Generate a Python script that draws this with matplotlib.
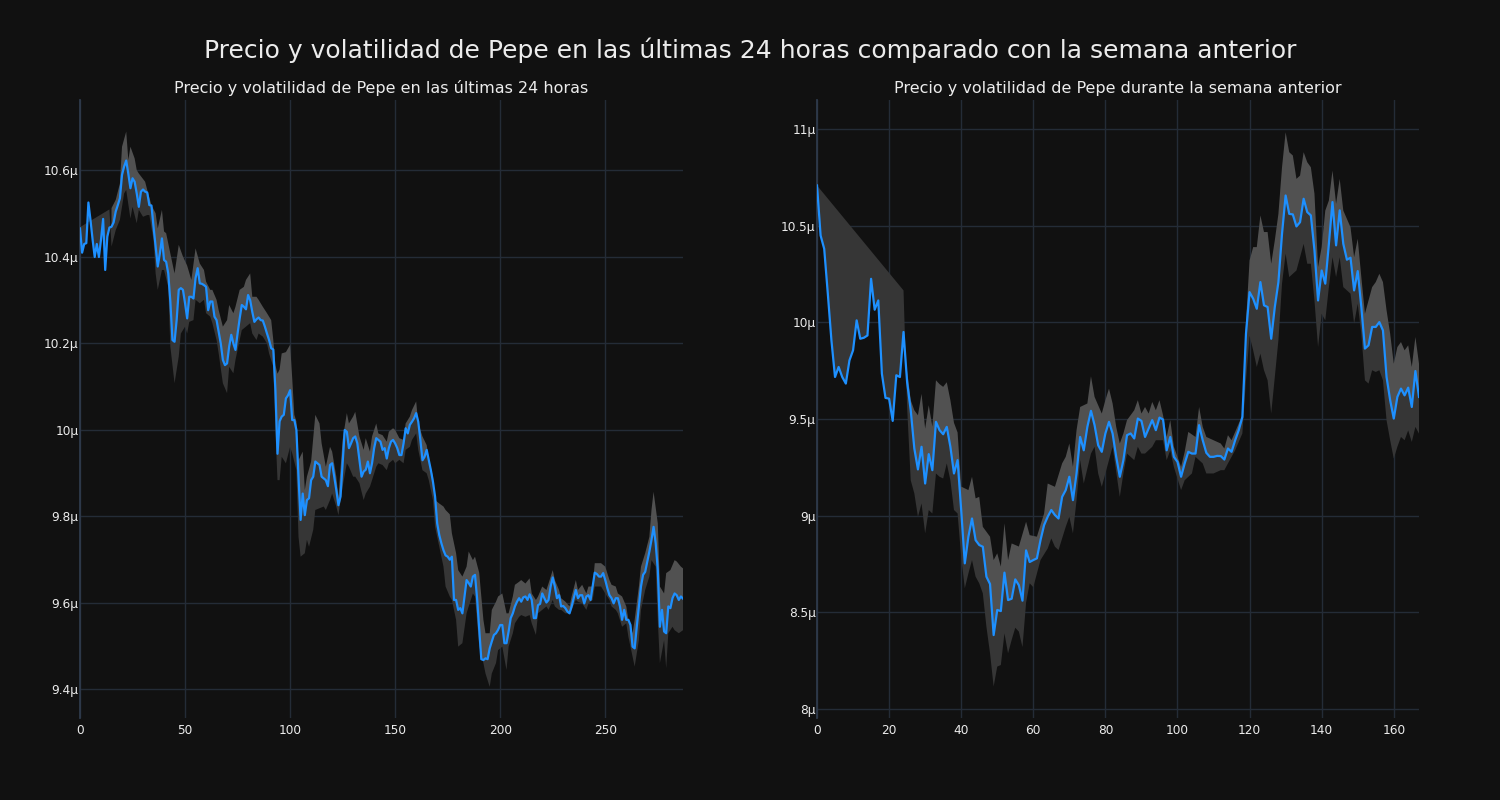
import numpy as np
import matplotlib
matplotlib.use("Agg")
import matplotlib.pyplot as plt
from matplotlib.ticker import EngFormatter

plt.rcParams["font.family"] = ["DejaVu Sans"]

# ---------------- data (prices in micro-units, scaled by 1e-6 when plotted) ----------------
SCALE = 1e-6

day_price = [
    10.466, 10.410, 10.430, 10.432, 10.526, 10.485, 10.440, 10.400, 10.430, 10.400,
    10.440, 10.488, 10.370, 10.447, 10.468, 10.470, 10.480, 10.505, 10.520, 10.536,
    10.590, 10.609, 10.623, 10.592, 10.559, 10.582, 10.574, 10.547, 10.516, 10.551,
    10.556, 10.551, 10.549, 10.520, 10.519, 10.470, 10.424, 10.378, 10.408, 10.443,
    10.393, 10.389, 10.362, 10.297, 10.208, 10.204, 10.254, 10.324, 10.328, 10.324,
    10.293, 10.258, 10.308, 10.308, 10.304, 10.351, 10.374, 10.339, 10.338, 10.335,
    10.331, 10.277, 10.297, 10.297, 10.262, 10.254, 10.227, 10.200, 10.162, 10.150,
    10.154, 10.193, 10.220, 10.200, 10.185, 10.223, 10.258, 10.289, 10.285, 10.279,
    10.312, 10.300, 10.273, 10.250, 10.256, 10.260, 10.254, 10.253, 10.239, 10.223,
    10.208, 10.189, 10.186, 10.093, 9.945, 10.020, 10.031, 10.035, 10.073, 10.080,
    10.092, 10.023, 10.023, 10.000, 9.890, 9.792, 9.853, 9.803, 9.838, 9.842,
    9.884, 9.892, 9.927, 9.923, 9.919, 9.892, 9.888, 9.884, 9.870, 9.919,
    9.923, 9.892, 9.861, 9.826, 9.846, 9.923, 10.000, 9.996, 9.958, 9.969,
    9.981, 9.985, 9.969, 9.930, 9.892, 9.904, 9.908, 9.927, 9.900, 9.923,
    9.958, 9.981, 9.977, 9.973, 9.954, 9.958, 9.934, 9.958, 9.973, 9.977,
    9.969, 9.958, 9.942, 9.942, 9.969, 10.004, 9.992, 10.012, 10.019, 10.027,
    10.039, 10.019, 9.977, 9.930, 9.938, 9.954, 9.931, 9.907, 9.880, 9.846,
    9.784, 9.757, 9.738, 9.722, 9.710, 9.707, 9.700, 9.707, 9.607, 9.607,
    9.584, 9.588, 9.576, 9.615, 9.653, 9.646, 9.638, 9.661, 9.665, 9.610,
    9.540, 9.470, 9.468, 9.472, 9.470, 9.495, 9.511, 9.526, 9.530, 9.538,
    9.549, 9.549, 9.507, 9.507, 9.534, 9.565, 9.576, 9.592, 9.603, 9.611,
    9.603, 9.613, 9.615, 9.607, 9.620, 9.607, 9.565, 9.565, 9.595, 9.598,
    9.622, 9.611, 9.601, 9.607, 9.638, 9.659, 9.638, 9.611, 9.618, 9.592,
    9.593, 9.588, 9.580, 9.576, 9.592, 9.611, 9.630, 9.611, 9.618, 9.618,
    9.599, 9.615, 9.618, 9.607, 9.638, 9.670, 9.667, 9.661, 9.661, 9.669,
    9.653, 9.634, 9.618, 9.611, 9.599, 9.611, 9.611, 9.592, 9.561, 9.584,
    9.561, 9.561, 9.549, 9.499, 9.495, 9.545, 9.592, 9.638, 9.665, 9.672,
    9.696, 9.719, 9.746, 9.776, 9.738, 9.676, 9.545, 9.584, 9.534, 9.530,
    9.592, 9.588, 9.611, 9.622, 9.618, 9.607, 9.615, 9.610,
]

# upper edge of the volatility band (24h)
day_up_x = [15, 17, 19, 20, 22, 23, 24, 26, 27, 28, 31, 32, 34, 36, 37, 39, 40, 41, 43, 45,
            47, 49, 51, 53, 55, 57, 59, 60, 62, 63, 65, 66, 68, 70, 71, 73, 74, 76, 78, 79,
            81, 82, 84, 85, 87, 89, 91, 92, 93, 94, 95, 96, 98, 100, 101, 102, 103, 104, 106, 107,
            108, 110, 112, 114, 115, 117, 119, 120, 122, 123, 125, 127, 128, 130, 131, 133, 135, 136, 138, 139,
            141, 142, 144, 146, 147, 149, 150, 152, 154, 155, 157, 158, 160, 161, 163, 165, 166, 168, 169, 171,
            173, 174, 176, 177, 179, 180, 182, 184, 185, 187, 188, 190, 192, 193, 195, 196, 198, 199, 201, 203,
            204, 206, 207, 209, 210, 212, 214, 215, 217, 218, 220, 222, 223, 225, 226, 228, 229, 231, 233, 234,
            236, 237, 239, 241, 242, 244, 245, 247, 248, 250, 252, 253, 255, 256, 258, 260, 261, 263, 264, 266,
            267, 269, 271, 272, 273, 275, 276, 278, 279, 281, 283, 284, 286, 287]
day_up_v = [10.513, 10.532, 10.570, 10.655, 10.690, 10.624, 10.655, 10.628, 10.601, 10.593,
            10.574, 10.555, 10.520, 10.501, 10.466, 10.509, 10.459, 10.455, 10.408, 10.362,
            10.428, 10.401, 10.380, 10.347, 10.420, 10.385, 10.370, 10.343, 10.324, 10.324,
            10.301, 10.277, 10.239, 10.254, 10.289, 10.270, 10.285, 10.324, 10.331, 10.347,
            10.362, 10.308, 10.308, 10.301, 10.285, 10.270, 10.254, 10.208, 10.150, 10.130,
            10.140, 10.177, 10.180, 10.197, 10.120, 10.035, 10.020, 9.930, 9.950, 9.861,
            9.892, 9.927, 10.035, 10.015, 9.969, 9.915, 9.961, 9.950, 9.892, 9.845,
            9.977, 10.039, 10.015, 10.031, 10.042, 9.985, 9.954, 9.981, 9.950, 9.985,
            10.015, 9.992, 9.988, 9.973, 9.996, 10.004, 10.000, 9.981, 9.977, 10.015,
            10.031, 10.046, 10.066, 10.015, 9.985, 9.965, 9.934, 9.892, 9.838, 9.830,
            9.823, 9.815, 9.805, 9.761, 9.715, 9.676, 9.661, 9.684, 9.719, 9.699,
            9.707, 9.670, 9.561, 9.530, 9.530, 9.584, 9.603, 9.615, 9.622, 9.576,
            9.576, 9.615, 9.642, 9.649, 9.653, 9.645, 9.657, 9.622, 9.607, 9.615,
            9.638, 9.630, 9.645, 9.676, 9.653, 9.630, 9.611, 9.603, 9.592, 9.615,
            9.653, 9.630, 9.642, 9.622, 9.638, 9.638, 9.692, 9.692, 9.692, 9.684,
            9.653, 9.642, 9.638, 9.622, 9.615, 9.592, 9.561, 9.530, 9.561, 9.638,
            9.684, 9.715, 9.753, 9.815, 9.857, 9.784, 9.638, 9.622, 9.669, 9.676,
            9.699, 9.696, 9.684, 9.680]

# lower edge of the volatility band (24h); first two points close the warm-up window
day_lo_x = [0, 14, 15, 17, 19, 21, 22, 24, 25, 27, 28, 30, 32, 33, 35, 36, 37, 39, 40, 42,
            43, 45, 47, 48, 50, 51, 52, 54, 55, 57, 59, 60, 62, 63, 65, 66, 68, 70, 71, 73,
            74, 76, 77, 79, 81, 82, 84, 85, 87, 89, 90, 92, 93, 94, 95, 96, 98, 100, 101, 103,
            104, 105, 107, 108, 109, 111, 112, 114, 116, 117, 119, 120, 122, 123, 125, 127, 128, 130, 131, 133,
            135, 136, 138, 139, 141, 142, 144, 146, 147, 149, 150, 152, 154, 155, 157, 158, 160, 161, 163, 165,
            166, 168, 169, 171, 173, 174, 176, 177, 179, 180, 182, 184, 185, 187, 188, 190, 192, 193, 195, 196,
            198, 199, 201, 203, 204, 206, 207, 209, 210, 212, 214, 215, 217, 218, 220, 222, 223, 225, 226, 228,
            229, 231, 233, 234, 236, 237, 239, 241, 242, 244, 245, 247, 248, 250, 252, 253, 255, 256, 258, 260,
            261, 263, 264, 266, 267, 269, 271, 272, 274, 275, 276, 278, 279, 280, 282, 283, 285, 287]
day_lo_v = [10.469, 10.510, 10.424, 10.462, 10.486, 10.547, 10.555, 10.489, 10.516, 10.478,
            10.509, 10.493, 10.497, 10.497, 10.439, 10.362, 10.324, 10.370, 10.370, 10.331,
            10.193, 10.108, 10.170, 10.223, 10.239, 10.223, 10.250, 10.254, 10.301, 10.293,
            10.301, 10.270, 10.262, 10.247, 10.208, 10.177, 10.108, 10.085, 10.146, 10.131,
            10.162, 10.208, 10.231, 10.239, 10.247, 10.223, 10.208, 10.223, 10.216, 10.200,
            10.177, 10.146, 10.000, 9.884, 9.884, 9.938, 9.923, 9.961, 9.946, 9.907,
            9.753, 9.707, 9.715, 9.746, 9.730, 9.769, 9.815, 9.819, 9.823, 9.815,
            9.838, 9.853, 9.823, 9.803, 9.869, 9.923, 9.915, 9.892, 9.892, 9.877,
            9.838, 9.853, 9.869, 9.884, 9.915, 9.923, 9.919, 9.907, 9.923, 9.931,
            9.923, 9.931, 9.923, 9.954, 9.961, 9.977, 9.992, 9.954, 9.907, 9.900,
            9.884, 9.838, 9.776, 9.730, 9.684, 9.638, 9.615, 9.607, 9.561, 9.499,
            9.507, 9.576, 9.592, 9.622, 9.615, 9.500, 9.461, 9.437, 9.406, 9.437,
            9.461, 9.491, 9.499, 9.445, 9.499, 9.530, 9.553, 9.568, 9.572, 9.568,
            9.572, 9.553, 9.526, 9.576, 9.584, 9.592, 9.584, 9.607, 9.592, 9.584,
            9.584, 9.576, 9.576, 9.584, 9.607, 9.603, 9.599, 9.584, 9.599, 9.607,
            9.638, 9.638, 9.638, 9.622, 9.607, 9.592, 9.584, 9.576, 9.545, 9.553,
            9.522, 9.476, 9.453, 9.514, 9.584, 9.630, 9.661, 9.699, 9.684, 9.561,
            9.461, 9.514, 9.449, 9.530, 9.545, 9.537, 9.530, 9.537]

week_price = [
    10.708, 10.449, 10.380, 10.148, 9.907, 9.717, 9.769, 9.717, 9.683, 9.803,
    9.855, 10.010, 9.915, 9.920, 9.932, 10.225, 10.065, 10.113, 9.734, 9.609,
    9.605, 9.490, 9.726, 9.717, 9.950, 9.690, 9.545, 9.347, 9.239, 9.356,
    9.166, 9.318, 9.235, 9.485, 9.442, 9.421, 9.459, 9.356, 9.218, 9.287,
    9.028, 8.753, 8.891, 8.985, 8.873, 8.848, 8.839, 8.684, 8.646, 8.382,
    8.512, 8.506, 8.705, 8.563, 8.570, 8.670, 8.640, 8.560, 8.820, 8.760,
    8.770, 8.779, 8.873, 8.951, 8.994, 9.029, 9.003, 8.985, 9.097, 9.132,
    9.201, 9.080, 9.218, 9.407, 9.338, 9.459, 9.542, 9.468, 9.364, 9.330,
    9.425, 9.485, 9.425, 9.304, 9.201, 9.287, 9.416, 9.425, 9.399, 9.502,
    9.490, 9.407, 9.450, 9.494, 9.442, 9.507, 9.497, 9.338, 9.407, 9.304,
    9.278, 9.201, 9.270, 9.330, 9.321, 9.321, 9.468, 9.390, 9.325, 9.304,
    9.304, 9.309, 9.308, 9.290, 9.347, 9.330, 9.390, 9.442, 9.510, 9.941,
    10.156, 10.122, 10.070, 10.208, 10.088, 10.079, 9.915, 10.079, 10.208, 10.458,
    10.656, 10.561, 10.558, 10.496, 10.518, 10.639, 10.570, 10.553, 10.372, 10.113,
    10.268, 10.200, 10.406, 10.622, 10.398, 10.579, 10.406, 10.324, 10.334, 10.165,
    10.265, 10.079, 9.864, 9.881, 9.976, 9.976, 10.001, 9.958, 9.717, 9.597,
    9.502, 9.614, 9.657, 9.622, 9.662, 9.562, 9.748, 9.614,
]

week_up_x = [25, 26, 27, 28, 29, 30, 31, 32, 33, 34, 35, 36, 37, 38, 39, 40, 42, 43, 44, 45,
             46, 48, 49, 50, 51, 52, 53, 54, 56, 58, 59, 61, 63, 64, 66, 68, 69, 70, 71, 72,
             73, 75, 76, 77, 79, 80, 81, 82, 83, 84, 85, 86, 88, 89, 90, 91, 92, 93, 94, 95,
             96, 97, 98, 99, 100, 101, 102, 103, 105, 106, 107, 108, 110, 112, 113, 114, 115, 116, 118, 119,
             120, 121, 122, 123, 124, 125, 126, 127, 128, 129, 130, 131, 132, 133, 134, 135, 136, 137, 138, 139,
             140, 141, 142, 143, 144, 145, 146, 148, 149, 150, 151, 152, 154, 155, 156, 157, 158, 159, 160, 161,
             162, 163, 164, 165, 166, 167]
week_up_v = [9.750, 9.597, 9.545, 9.519, 9.630, 9.450, 9.571, 9.460, 9.700, 9.680,
             9.666, 9.690, 9.597, 9.480, 9.430, 9.150, 9.132, 9.201, 9.089, 9.097,
             8.942, 8.891, 8.770, 8.805, 8.736, 8.960, 8.770, 8.856, 8.840, 8.968,
             8.899, 8.891, 9.011, 9.166, 9.149, 9.270, 9.304, 9.373, 9.252, 9.442,
             9.562, 9.580, 9.721, 9.614, 9.528, 9.597, 9.657, 9.580, 9.459, 9.373,
             9.425, 9.494, 9.545, 9.597, 9.528, 9.562, 9.528, 9.588, 9.545, 9.597,
             9.519, 9.407, 9.494, 9.356, 9.304, 9.252, 9.330, 9.433, 9.407, 9.562,
             9.459, 9.407, 9.390, 9.373, 9.347, 9.416, 9.390, 9.433, 9.520, 10.000,
             10.320, 10.389, 10.389, 10.553, 10.467, 10.467, 10.303, 10.424, 10.561, 10.802,
             10.983, 10.880, 10.863, 10.742, 10.759, 10.880, 10.828, 10.802, 10.665, 10.286,
             10.389, 10.578, 10.630, 10.785, 10.613, 10.742, 10.578, 10.492, 10.337, 10.432,
             10.234, 10.044, 10.182, 10.208, 10.251, 10.208, 10.062, 9.941, 9.786, 9.872,
             9.898, 9.855, 9.881, 9.769, 9.924, 9.786]

# lower edge (7 days); first two points close the warm-up window
week_lo_x = [0, 24, 25, 26, 27, 28, 29, 30, 31, 32, 33, 34, 35, 36, 37, 38, 39, 40, 41, 42,
             43, 44, 45, 46, 47, 48, 49, 50, 51, 52, 53, 54, 55, 56, 57, 58, 59, 60, 62, 64,
             65, 66, 67, 69, 70, 71, 72, 73, 74, 76, 77, 78, 79, 81, 82, 84, 85, 86, 88, 89,
             90, 91, 93, 94, 96, 97, 98, 99, 101, 102, 104, 105, 107, 108, 110, 112, 113, 114, 116, 118,
             119, 120, 121, 122, 123, 124, 125, 126, 127, 128, 129, 130, 131, 132, 133, 134, 135, 136, 137, 138,
             139, 140, 141, 142, 143, 144, 145, 146, 147, 148, 149, 150, 151, 152, 153, 154, 155, 156, 157, 158,
             159, 160, 161, 162, 163, 164, 165, 166, 167]
week_lo_v = [10.708, 10.165, 9.560, 9.183, 9.115, 8.994, 9.063, 8.908, 9.029, 9.011,
             9.218, 9.201, 9.192, 9.270, 9.183, 9.029, 9.011, 8.787, 8.624, 8.701,
             8.770, 8.684, 8.650, 8.598, 8.425, 8.288, 8.116, 8.219, 8.227, 8.391,
             8.288, 8.357, 8.420, 8.400, 8.320, 8.550, 8.650, 8.630, 8.770, 8.830,
             8.882, 8.839, 8.822, 8.942, 8.994, 8.908, 9.080, 9.287, 9.166, 9.321,
             9.356, 9.218, 9.149, 9.287, 9.356, 9.097, 9.218, 9.321, 9.287, 9.356,
             9.321, 9.321, 9.356, 9.390, 9.390, 9.287, 9.338, 9.252, 9.132, 9.183,
             9.218, 9.304, 9.270, 9.218, 9.218, 9.235, 9.235, 9.270, 9.338, 9.425,
             9.700, 9.930, 9.855, 9.769, 9.838, 9.752, 9.700, 9.528, 9.717, 9.907,
             10.200, 10.355, 10.234, 10.251, 10.268, 10.337, 10.406, 10.303, 10.303, 10.113,
             9.872, 10.044, 10.010, 10.182, 10.337, 10.234, 10.337, 10.182, 10.165, 10.148,
             9.993, 10.096, 9.941, 9.700, 9.683, 9.752, 9.743, 9.752, 9.700, 9.493,
             9.390, 9.295, 9.356, 9.407, 9.390, 9.441, 9.381, 9.459, 9.424]

day_xticks = [0, 50, 100, 150, 200, 250]
day_yticks = [9.4, 9.6, 9.8, 10.0, 10.2, 10.4, 10.6]
week_xticks = [0, 20, 40, 60, 80, 100, 120, 140, 160]
week_yticks = [8.0, 8.5, 9.0, 9.5, 10.0, 10.5, 11.0]

suptitle = "Precio y volatilidad de Pepe en las últimas 24 horas comparado con la semana anterior"
title_day = "Precio y volatilidad de Pepe en las últimas 24 horas"
title_week = "Precio y volatilidad de Pepe durante la semana anterior"

# ---------------- style ----------------
BG = "#111111"
GRID = "#242c37"
SPINE = "#2e3a4b"
TEXT = "#ececec"
LINE = "#1e90ff"
LIGHT = "#515151"
DARK = "#363636"


def fill_to_line(ax, x, y, ex, ev, color):
    x = np.asarray(x, dtype=float)
    y = np.asarray(y, dtype=float)
    ex = np.asarray(ex, dtype=float)
    ev = np.asarray(ev, dtype=float)
    m = (x >= ex[0]) & (x <= ex[-1])
    px = np.concatenate([x[m], ex[::-1]])
    py = np.concatenate([y[m], ev[::-1]]) * SCALE
    ax.fill(px, py, color=color, lw=0, zorder=2)


def draw(ax, price, up_x, up_v, lo_x, lo_v, xticks, yticks, xlim, ylim, title):
    x = np.arange(len(price))
    ax.set_facecolor(BG)
    fill_to_line(ax, x, price, lo_x, lo_v, DARK)
    fill_to_line(ax, x, price, up_x, up_v, LIGHT)
    ax.plot(x, np.asarray(price) * SCALE, color=LINE, lw=1.6, zorder=3)
    ax.set_xlim(*xlim)
    ax.set_ylim(ylim[0] * SCALE, ylim[1] * SCALE)
    ax.set_xticks(xticks)
    ax.set_yticks(np.asarray(yticks) * SCALE)
    ax.yaxis.set_major_formatter(EngFormatter(sep=""))
    ax.grid(True, color=GRID, lw=1.0)
    ax.set_axisbelow(True)
    for s in ("top", "right", "bottom"):
        ax.spines[s].set_visible(False)
    ax.spines["left"].set_color(SPINE)
    ax.spines["left"].set_linewidth(1.3)
    ax.tick_params(axis="both", length=0, colors=TEXT, labelsize=8.7)
    ax.tick_params(axis="y", pad=1)
    ax.tick_params(axis="x", pad=4)
    ax.set_title(title, color=TEXT, fontsize=11.5, pad=5)


fig = plt.figure(figsize=(15, 8), dpi=100, facecolor=BG)
ax1 = fig.add_axes([80 / 1500, 1 - 718 / 800, (683 - 80) / 1500, (718 - 100) / 800])
ax2 = fig.add_axes([817 / 1500, 1 - 718 / 800, (1419 - 817) / 1500, (718 - 100) / 800])

draw(ax1, day_price, day_up_x, day_up_v, day_lo_x, day_lo_v,
     day_xticks, day_yticks, (0, 287), (9.334, 10.763), title_day)
draw(ax2, week_price, week_up_x, week_up_v, week_lo_x, week_lo_v,
     week_xticks, week_yticks, (0, 167), (7.953, 11.15), title_week)

fig.suptitle(suptitle, color=TEXT, fontsize=18, y=1 - 50 / 800, va="center")

fig.savefig("out.png", dpi=100, facecolor=BG)
